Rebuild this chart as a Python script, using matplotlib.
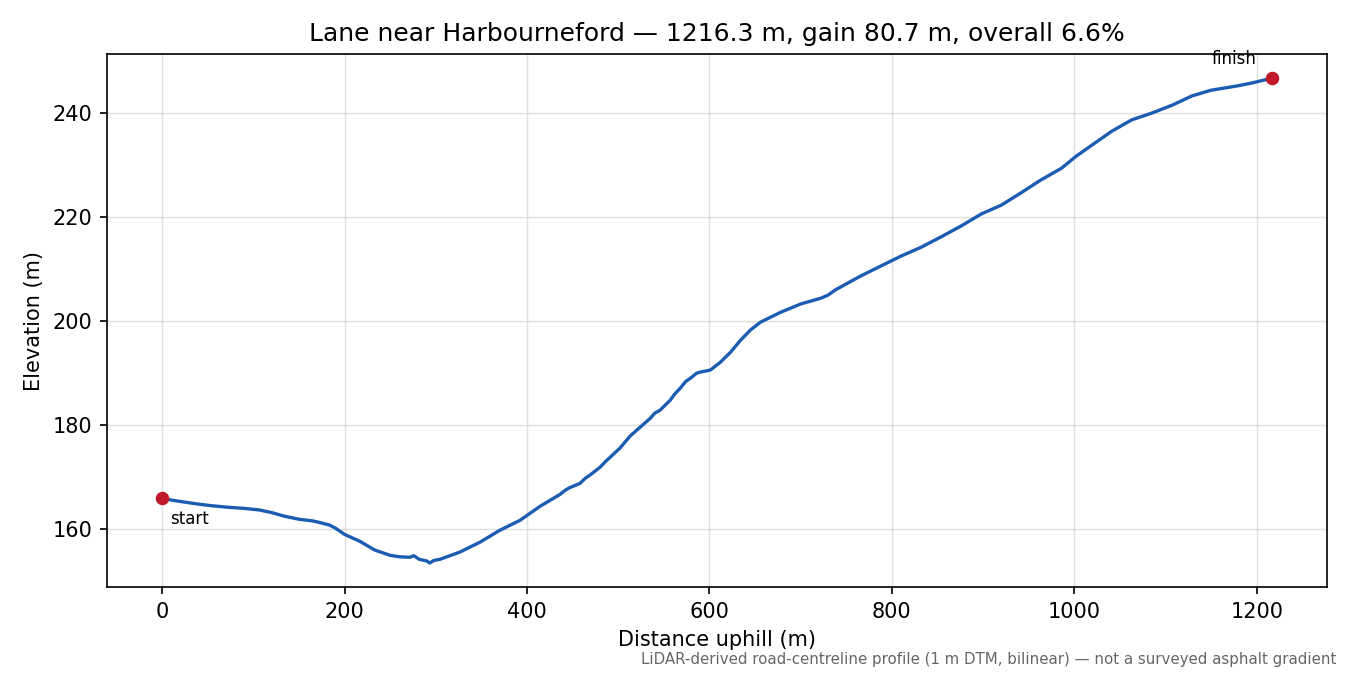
import numpy as np
import matplotlib
matplotlib.use("Agg")
import matplotlib.pyplot as plt

# profile (distance along road, elevation)
dist_m = np.array([0, 10, 25, 40.7, 55, 73.6, 90, 106.6, 120, 134, 150.5, 165, 172.5, 183.5,
                   190, 200, 216.5, 233, 249.5, 260, 271.4, 276, 282, 290, 293.4, 298, 304.4,
                   326.4, 348.4, 370.3, 392.3, 414.3, 436.3, 442, 447, 458, 464, 469, 480,
                   486, 491, 502, 513, 524, 535, 540, 546, 557, 562, 568, 574, 579, 586, 590,
                   601, 612, 623, 634, 645, 656, 678, 700, 722, 730, 738, 766, 788, 810,
                   832, 854, 876, 898, 920, 941, 963, 986, 1002, 1019, 1041, 1063, 1085,
                   1107, 1129, 1150, 1178, 1195, 1216.3])
elev_m = np.array([166.0, 165.6, 165.2, 164.8, 164.5, 164.2, 164.0, 163.7, 163.2, 162.5, 161.9,
                   161.6, 161.3, 160.8, 160.2, 159.0, 157.7, 156.0, 155.0, 154.7, 154.6, 154.9,
                   154.2, 153.9, 153.5, 154.0, 154.2, 155.6, 157.5, 159.8, 161.7, 164.4, 166.7,
                   167.5, 168.0, 168.8, 169.8, 170.4, 171.9, 173.0, 173.8, 175.6, 177.9, 179.6,
                   181.3, 182.3, 182.9, 184.8, 186.0, 187.1, 188.4, 189.0, 190.0, 190.2, 190.6,
                   192.1, 194.0, 196.3, 198.3, 199.8, 201.7, 203.3, 204.4, 205.0, 206.0, 208.7,
                   210.6, 212.5, 214.2, 216.2, 218.3, 220.6, 222.3, 224.6, 227.1, 229.4, 231.7,
                   233.8, 236.5, 238.7, 240.0, 241.5, 243.3, 244.4, 245.2, 245.8, 246.7])

title = "Lane near Harbourneford — 1216.3 m, gain 80.7 m, overall 6.6%"
note = "LiDAR-derived road-centreline profile (1 m DTM, bilinear) — not a surveyed asphalt gradient"

fig, ax = plt.subplots(figsize=(9, 4.5), dpi=150)
fig.subplots_adjust(left=0.079, right=0.983, top=0.92, bottom=0.13)

ax.plot(dist_m, elev_m, color="#1c5db3", lw=1.6, zorder=2)
ax.scatter([dist_m[0], dist_m[-1]], [elev_m[0], elev_m[-1]], color="#c01a2a", s=30, zorder=3)
ax.annotate("start", (dist_m[0], elev_m[0]), xytext=(4, -6), textcoords="offset points",
            ha="left", va="top", fontsize=8)
ax.annotate("finish", (dist_m[-1], elev_m[-1]), xytext=(-7, 5), textcoords="offset points",
            ha="right", va="bottom", fontsize=8)

ax.set_title(title, fontsize=12)
ax.set_xlabel("Distance uphill (m)")
ax.set_ylabel("Elevation (m)")
ax.grid(True, color="#cccccc", alpha=0.6, lw=0.7)
ax.set_axisbelow(True)

fig.text(0.99, 0.012, note, ha="right", va="bottom", fontsize=7.2, color="#666666")

fig.savefig("out.png")
